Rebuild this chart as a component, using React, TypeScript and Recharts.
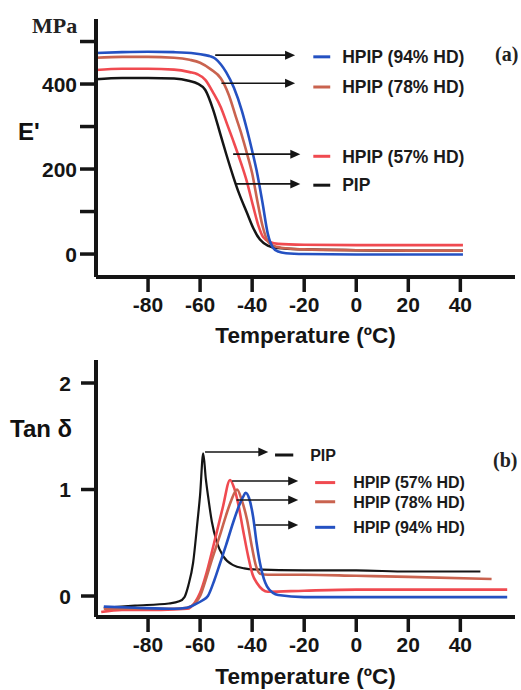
import React from "react";
import { LineChart, Line, XAxis, YAxis, ReferenceLine, ReferenceDot } from "recharts";

type Pt = { t: number; v: number };
const pts = (rows: number[][]): Pt[] => rows.map(([t, v]) => ({ t, v }));

// (a) storage modulus E' in MPa vs temperature
const eHpip94 = pts([
  [-100, 473], [-90, 475], [-80, 476], [-70, 475], [-62, 472], [-58, 468], [-56, 465], [-54, 459],
  [-52, 446], [-50, 428], [-47, 391], [-44, 338], [-42, 293], [-40, 243], [-38, 188], [-36, 120],
  [-34, 48], [-32, 15], [-30, 6], [-27, 2], [-20, 0], [0, -1], [20, -1], [41, -1],
]);
const eHpip78 = pts([
  [-100, 462], [-90, 464], [-80, 464], [-70, 462], [-64, 457], [-60, 450], [-56, 435], [-52, 413],
  [-49, 375], [-46, 318], [-44, 280], [-42, 237], [-40, 190], [-38, 125], [-36, 66], [-34, 30],
  [-32, 20], [-29, 15], [-20, 11], [0, 9], [20, 8], [41, 8],
]);
const eHpip57 = pts([
  [-100, 433], [-90, 436], [-80, 436], [-70, 434], [-64, 428], [-61, 423], [-58, 410], [-55, 380],
  [-52, 345], [-49.6, 305], [-47, 262], [-44.6, 220], [-42, 170], [-39.6, 112], [-37.5, 65],
  [-35.8, 40], [-33, 28], [-30, 24], [-20, 22], [0, 21], [20, 21], [41, 21],
]);
const ePip = pts([
  [-100, 411], [-90, 414], [-80, 414], [-70, 413], [-64, 407], [-61, 401], [-58, 386], [-55, 340],
  [-52.3, 284], [-50, 236], [-47.3, 183], [-45, 142], [-42, 97], [-39.5, 60], [-37, 34], [-34, 20],
  [-30, 14], [-20, 11], [0, 9], [20, 8], [41, 8],
]);

// (b) tan delta vs temperature
const tanPip = pts([
  [-97, -0.11], [-85, -0.09], [-72, -0.07], [-68, -0.05], [-66, -0.01], [-64.5, 0.1], [-62.7, 0.31],
  [-61, 0.7], [-60, 0.95], [-58.8, 1.34], [-57.8, 1.1], [-56.9, 0.93], [-55.5, 0.7], [-53.5, 0.5],
  [-51, 0.37], [-47.3, 0.29], [-43, 0.26], [-39.6, 0.25], [-20, 0.24], [0, 0.24], [20, 0.23], [47.7, 0.23],
]);
const tanHpip57 = pts([
  [-98, -0.15], [-90, -0.13], [-75, -0.13], [-65, -0.12], [-62, -0.06], [-60, 0.03], [-57.5, 0.22],
  [-55, 0.46], [-53, 0.66], [-51.2, 0.84], [-48.5, 1.09], [-47, 1.02], [-45.4, 0.87], [-43.5, 0.62],
  [-41.5, 0.37], [-39.8, 0.2], [-38.1, 0.12], [-36, 0.06], [-34, 0.04], [-20, 0.05], [0, 0.06],
  [20, 0.06], [58, 0.06],
]);
const tanHpip78 = pts([
  [-97, -0.12], [-85, -0.12], [-70, -0.12], [-65, -0.11], [-62, -0.07], [-60, 0.0], [-58, 0.14],
  [-56, 0.3], [-54, 0.45], [-52, 0.6], [-50, 0.76], [-48, 0.9], [-45.8, 1.0], [-44, 0.9], [-42, 0.72],
  [-40, 0.45], [-38.5, 0.28], [-37, 0.21], [-34, 0.2], [-20, 0.2], [0, 0.19], [20, 0.18], [52, 0.16],
]);
const tanHpip94 = pts([
  [-97, -0.1], [-85, -0.11], [-70, -0.12], [-65, -0.11], [-62, -0.08], [-59, -0.04], [-57, 0.0],
  [-54.5, 0.15], [-52.3, 0.31], [-50, 0.48], [-47.3, 0.69], [-45, 0.85], [-43.5, 0.93], [-42.5, 0.97],
  [-41.2, 0.92], [-39.6, 0.74], [-38.3, 0.5], [-37, 0.31], [-35.5, 0.16], [-34.3, 0.09], [-32, 0.03],
  [-30, 0.01], [-20, -0.01], [0, -0.01], [20, -0.01], [58, -0.01],
]);

const tempTicks = [-80, -60, -40, -20, 0, 20, 40];
const eTicks = [0, 100, 200, 300, 400, 500];
const eLabelled = [0, 200, 400];
const tanTicks = [0, 1, 2];

const BLUE = "#2451c2";
const BROWN = "#c9634f";
const RED = "#f04a50";
const BLACK = "#151515";
const SANS = "'Liberation Sans', Arial, sans-serif";
const SERIF = "'Liberation Serif', 'Times New Roman', serif";

// annotation arrows: start on the curve, arrow tip, then a legend swatch + name
const eNotes = [
  { name: "HPIP (94% HD)", color: BLUE, from: -54.2, tip: -23.5, ay: 468, ly: 464 },
  { name: "HPIP (78% HD)", color: BROWN, from: -51.8, tip: -23.5, ay: 402, ly: 393 },
  { name: "HPIP (57% HD)", color: RED, from: -47.3, tip: -21.5, ay: 235, ly: 230 },
  { name: "PIP", color: BLACK, from: -46.5, tip: -21.5, ay: 165, ly: 162 },
];
const tanNotes = [
  { name: "PIP", color: BLACK, from: -58.1, tip: -33.8, ay: 1.352, ly: 1.324, sw: [-31.2, -24.2], tx: -17.7 },
  { name: "HPIP (57% HD)", color: RED, from: -47.7, tip: -22.3, ay: 1.08, ly: 1.065, sw: [-15.8, -8.1], tx: -1.2 },
  { name: "HPIP (78% HD)", color: BROWN, from: -46, tip: -22.3, ay: 0.901, ly: 0.885, sw: [-15.8, -8.1], tx: -1.2 },
  { name: "HPIP (94% HD)", color: BLUE, from: -38.8, tip: -22.3, ay: 0.667, ly: 0.645, sw: [-15.8, -8.1], tx: -1.2 },
];

const arrowHead = (p: any) => (
  <polygon
    points={`${p.cx},${p.cy} ${p.cx - 10},${p.cy - 4.5} ${p.cx - 10},${p.cy + 4.5}`}
    fill={BLACK}
  />
);

const noteText = (name: string, size: number) => (p: any) => (
  <text x={p.cx} y={p.cy} dy={size * 0.36} fontFamily={SANS} fontWeight="bold" fontSize={size} fill="#1a1a1a">
    {name}
  </text>
);

const xTick = (dy: number) => (p: any) => (
  <text x={p.x} y={p.y} dy={dy} textAnchor="middle" fontFamily={SANS} fontWeight="bold" fontSize={21} fill="#151515">
    {p.payload.value}
  </text>
);

const yTick = (show: number[]) => (p: any) =>
  show.includes(p.payload.value) ? (
    <text x={p.x} y={p.y} dy={7.5} textAnchor="end" fontFamily={SANS} fontWeight="bold" fontSize={21} fill="#151515">
      {p.payload.value}
    </text>
  ) : (
    <g />
  );

const axisStroke = { stroke: BLACK, strokeWidth: 4 };
const tickStroke = { stroke: BLACK, strokeWidth: 3.5 };
const titleStyle = { fontFamily: SANS, fontWeight: "bold", fontSize: 22.5, fill: "#151515" };

function ModulusChart() {
  return (
    <LineChart width={521} height={352} margin={{ top: 19, right: 6, left: 0, bottom: 0 }}>
      <XAxis
        type="number"
        dataKey="t"
        domain={[-100, 61]}
        ticks={tempTicks}
        interval={0}
        allowDataOverflow
        height={75}
        tickSize={15}
        axisLine={axisStroke}
        tickLine={tickStroke}
        tick={xTick(18)}
        label={{ value: "Temperature (ºC)", position: "insideBottom", offset: 9, style: titleStyle }}
      />
      <YAxis
        type="number"
        domain={[-54, 553]}
        ticks={eTicks}
        interval={0}
        allowDataOverflow
        width={96}
        tickSize={16}
        tickMargin={3}
        axisLine={axisStroke}
        tickLine={tickStroke}
        tick={yTick(eLabelled)}
      />
      <Line data={ePip} dataKey="v" type="monotone" stroke={BLACK} strokeWidth={2.5} dot={false} isAnimationActive={false} />
      <Line data={eHpip57} dataKey="v" type="monotone" stroke={RED} strokeWidth={2.6} dot={false} isAnimationActive={false} />
      <Line data={eHpip78} dataKey="v" type="monotone" stroke={BROWN} strokeWidth={2.6} dot={false} isAnimationActive={false} />
      <Line data={eHpip94} dataKey="v" type="monotone" stroke={BLUE} strokeWidth={2.6} dot={false} isAnimationActive={false} />
      {eNotes.map((n) => (
        <React.Fragment key={n.name}>
          <ReferenceLine segment={[{ x: n.from, y: n.ay }, { x: n.tip - 2, y: n.ay }]} stroke={BLACK} strokeWidth={1.6} />
          <ReferenceDot x={n.tip} y={n.ay} r={1} shape={arrowHead} />
          <ReferenceLine segment={[{ x: -16.5, y: n.ly }, { x: -10, y: n.ly }]} stroke={n.color} strokeWidth={3} />
          <ReferenceDot x={-5.4} y={n.ly} r={1} shape={noteText(n.name, 17.5)} />
        </React.Fragment>
      ))}
    </LineChart>
  );
}

function TanDeltaChart() {
  return (
    <LineChart width={521} height={338} margin={{ top: 8, right: 6, left: 0, bottom: 0 }}>
      <XAxis
        type="number"
        dataKey="t"
        domain={[-100, 61]}
        ticks={tempTicks}
        interval={0}
        allowDataOverflow
        height={73}
        tickSize={15}
        axisLine={axisStroke}
        tickLine={tickStroke}
        tick={xTick(18)}
        label={{ value: "Temperature (ºC)", position: "insideBottom", offset: 6, style: titleStyle }}
      />
      <YAxis
        type="number"
        domain={[-0.197, 2.216]}
        ticks={tanTicks}
        interval={0}
        allowDataOverflow
        width={96}
        tickSize={15}
        tickMargin={10}
        axisLine={axisStroke}
        tickLine={tickStroke}
        tick={yTick(tanTicks)}
      />
      <Line data={tanPip} dataKey="v" type="monotone" stroke={BLACK} strokeWidth={2.2} dot={false} isAnimationActive={false} />
      <Line data={tanHpip57} dataKey="v" type="monotone" stroke={RED} strokeWidth={2.6} dot={false} isAnimationActive={false} />
      <Line data={tanHpip78} dataKey="v" type="monotone" stroke={BROWN} strokeWidth={2.6} dot={false} isAnimationActive={false} />
      <Line data={tanHpip94} dataKey="v" type="monotone" stroke={BLUE} strokeWidth={2.6} dot={false} isAnimationActive={false} />
      {tanNotes.map((n) => (
        <React.Fragment key={n.name}>
          <ReferenceLine segment={[{ x: n.from, y: n.ay }, { x: n.tip - 2, y: n.ay }]} stroke={BLACK} strokeWidth={1.6} />
          <ReferenceDot x={n.tip} y={n.ay} r={1} shape={arrowHead} />
          <ReferenceLine segment={[{ x: n.sw[0], y: n.ly }, { x: n.sw[1], y: n.ly }]} stroke={n.color} strokeWidth={3} />
          <ReferenceDot x={n.tx} y={n.ly} r={1} shape={noteText(n.name, 16)} />
        </React.Fragment>
      ))}
    </LineChart>
  );
}

export default function App() {
  return (
    <div style={{ position: "absolute", left: 0, top: 0, width: 521, height: 690, background: "#fff", overflow: "hidden" }}>
      <div style={{ position: "absolute", left: 0, top: 0 }}>
        <ModulusChart />
      </div>
      <div style={{ position: "absolute", left: 0, top: 352 }}>
        <TanDeltaChart />
      </div>
      <svg width={521} height={690} style={{ position: "absolute", left: 0, top: 0, pointerEvents: "none" }}>
        <text x={32} y={33} fontFamily={SERIF} fontWeight="bold" fontSize={22} fill="#222">MPa</text>
        <text x={18} y={140} fontFamily={SANS} fontWeight="bold" fontSize={24} fill="#111">E'</text>
        <text x={495} y={61} fontFamily={SERIF} fontWeight="bold" fontSize={20} fill="#222">(a)</text>
        <text x={10} y={437} fontFamily={SANS} fontWeight="bold" fontSize={24} fill="#111">Tan δ</text>
        <text x={493} y={467} fontFamily={SERIF} fontWeight="bold" fontSize={20} fill="#222">(b)</text>
      </svg>
    </div>
  );
}
